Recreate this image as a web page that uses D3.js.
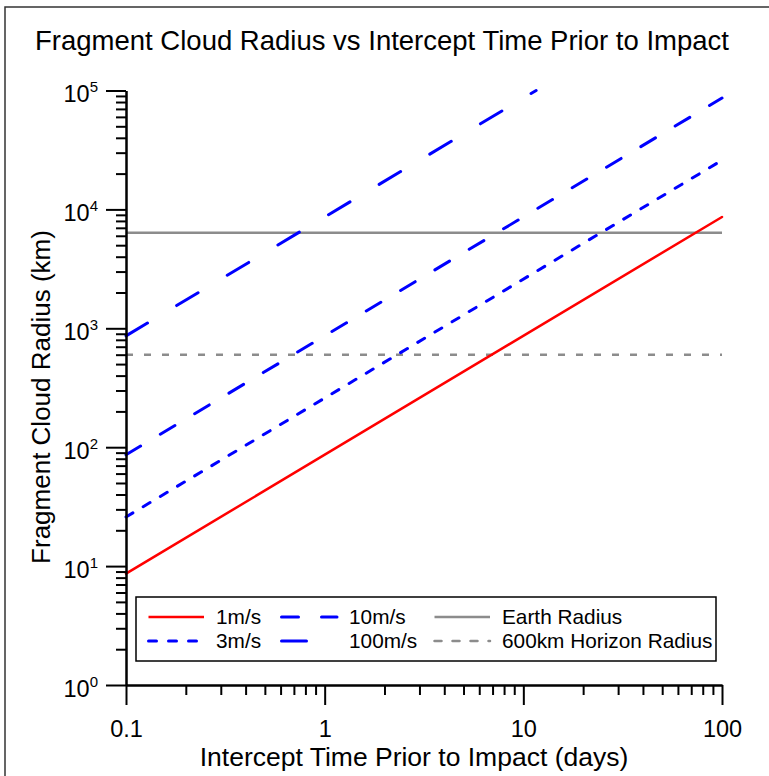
<!DOCTYPE html>
<html>
<head>
<meta charset="utf-8">
<script src="https://cdn.jsdelivr.net/npm/d3@7"></script>
<style>
  body { margin: 0; background: #fff; }
  svg { display: block; font-family: "Liberation Sans", Arial, sans-serif; }
</style>
</head>
<body>
<svg id="chart" width="769" height="776"></svg>
<script>
// values (radius in km, time in days)
const days = [0.1, 100];
const radius1 = [8.64, 8640];
const radius3 = [25.9, 25900];
const radius10 = [86.4, 86400];
const days100 = [0.1, 11.6];
const radius100 = [864, 100000];
const earthRadius = 6371;
const horizonRadius = 600;

const xMajor = [0.1, 1, 10, 100];
const yMajor = [1, 10, 100, 1000, 10000, 100000];

const series = [
  {name: "1m/s", t: days, r: radius1, color: "#ff0000", width: 2.5, dash: null},
  {name: "3m/s", t: days, r: radius3, color: "#0000ff", width: 3, dash: "8,12"},
  {name: "10m/s", t: days, r: radius10, color: "#0000ff", width: 3, dash: "17,23"},
  {name: "100m/s", t: days100, r: radius100, color: "#0000ff", width: 3, dash: "25,34"}
];
const refLines = [
  {name: "Earth Radius", r: earthRadius, color: "#8c8c8c", width: 2.5, dash: null},
  {name: "600km Horizon Radius", r: horizonRadius, color: "#8c8c8c", width: 2.5, dash: "7,11"}
];

const svg = d3.select("#chart");

const x = d3.scaleLog().domain([0.1, 100]).range([126, 722]);
const y = d3.scaleLog().domain([1, 100000]).range([685, 90.5]);

function minorTicks(lo, hi) {
  const out = [];
  for (let p = lo; p < hi; p *= 10) {
    for (let k = 2; k <= 9; k++) out.push(p * k);
  }
  return out;
}

// frame round the figure
svg.append("path")
  .attr("fill", "none")
  .attr("stroke", "#333")
  .attr("stroke-width", 1.5)
  .attr("d", "M5,776V7H769");

svg.append("text")
  .attr("x", 382)
  .attr("y", 50)
  .attr("text-anchor", "middle")
  .attr("font-size", 27.5)
  .text("Fragment Cloud Radius vs Intercept Time Prior to Impact");

// reference lines
svg.append("g")
  .selectAll("line")
  .data(refLines)
  .enter().append("line")
    .attr("x1", x(0.1))
    .attr("x2", x(100))
    .attr("y1", d => y(d.r))
    .attr("y2", d => y(d.r))
    .attr("stroke", d => d.color)
    .attr("stroke-width", d => d.width)
    .attr("stroke-dasharray", d => d.dash);

// speed lines
const line = d3.line().x(d => x(d[0])).y(d => y(d[1]));
svg.append("g")
  .selectAll("path")
  .data(series)
  .enter().append("path")
    .attr("fill", "none")
    .attr("stroke", d => d.color)
    .attr("stroke-width", d => d.width)
    .attr("stroke-linecap", "round")
    .attr("stroke-dasharray", d => d.dash)
    .attr("d", d => line(d.t.map((t, i) => [t, d.r[i]])));

// x axis
const xAxisG = svg.append("g").attr("transform", `translate(0,${y(1)})`);
xAxisG.append("g")
  .call(d3.axisBottom(x).tickValues(minorTicks(0.1, 100)).tickSize(10).tickSizeOuter(0).tickFormat(""));
xAxisG.append("g")
  .call(d3.axisBottom(x).tickValues(xMajor).tickSize(20).tickSizeOuter(0).tickPadding(15)
    .tickFormat(d => d < 1 ? d.toFixed(1) : d3.format("d")(d)));

// y axis
const yAxisG = svg.append("g").attr("transform", `translate(${x(0.1)},0)`);
yAxisG.append("g")
  .call(d3.axisLeft(y).tickValues(minorTicks(1, 100000)).tickSize(10).tickSizeOuter(0).tickFormat(""));
yAxisG.append("g")
  .call(d3.axisLeft(y).tickValues(yMajor).tickSize(20).tickSizeOuter(0).tickPadding(8).tickFormat(""));

svg.selectAll(".tick line, .domain")
  .attr("stroke", "#000")
  .attr("stroke-width", 2);
svg.selectAll(".tick text")
  .attr("fill", "#000")
  .attr("font-family", "Liberation Sans, Arial, sans-serif")
  .attr("font-size", 23.5);

yAxisG.selectAll(".tick text").filter(d => yMajor.includes(d))
  .attr("dy", "0.48em")
  .each(function(d) {
    const t = d3.select(this);
    t.append("tspan").text("10");
    t.append("tspan")
      .attr("dy", -10)
      .attr("font-size", 15)
      .text(Math.round(Math.log10(d)));
  });

// axis titles
svg.append("text")
  .attr("x", 414)
  .attr("y", 766)
  .attr("text-anchor", "middle")
  .attr("font-size", 26.5)
  .text("Intercept Time Prior to Impact (days)");

svg.append("text")
  .attr("transform", "translate(50,397) rotate(-90)")
  .attr("text-anchor", "middle")
  .attr("font-size", 26)
  .text("Fragment Cloud Radius (km)");

// legend
const legend = svg.append("g");
legend.append("rect")
  .attr("x", 136).attr("y", 597)
  .attr("width", 580).attr("height", 64)
  .attr("fill", "#fff")
  .attr("stroke", "#000")
  .attr("stroke-width", 1.5);

const legendItems = [
  {item: series[0], col: 0, row: 0},
  {item: series[1], col: 0, row: 1},
  {item: series[2], col: 1, row: 0},
  {item: series[3], col: 1, row: 1},
  {item: refLines[0], col: 2, row: 0},
  {item: refLines[1], col: 2, row: 1}
];
const colX = [147, 280, 433];
const colText = [216, 349, 502];
const rowY = [617, 641];

const li = legend.selectAll("g.item")
  .data(legendItems)
  .enter().append("g").attr("class", "item");
li.append("line")
  .attr("x1", d => colX[d.col] + 1.5)
  .attr("x2", d => colX[d.col] + 57)
  .attr("y1", d => rowY[d.row])
  .attr("y2", d => rowY[d.row])
  .attr("stroke", d => d.item.color)
  .attr("stroke-width", d => d.item.width)
  .attr("stroke-linecap", d => d.item.dash ? "round" : "butt")
  .attr("stroke-dasharray", d => d.item.dash);
li.append("text")
  .attr("x", d => colText[d.col])
  .attr("y", d => rowY[d.row])
  .attr("dy", "0.36em")
  .attr("font-size", 20.8)
  .text(d => d.item.name);
</script>
</body>
</html>
